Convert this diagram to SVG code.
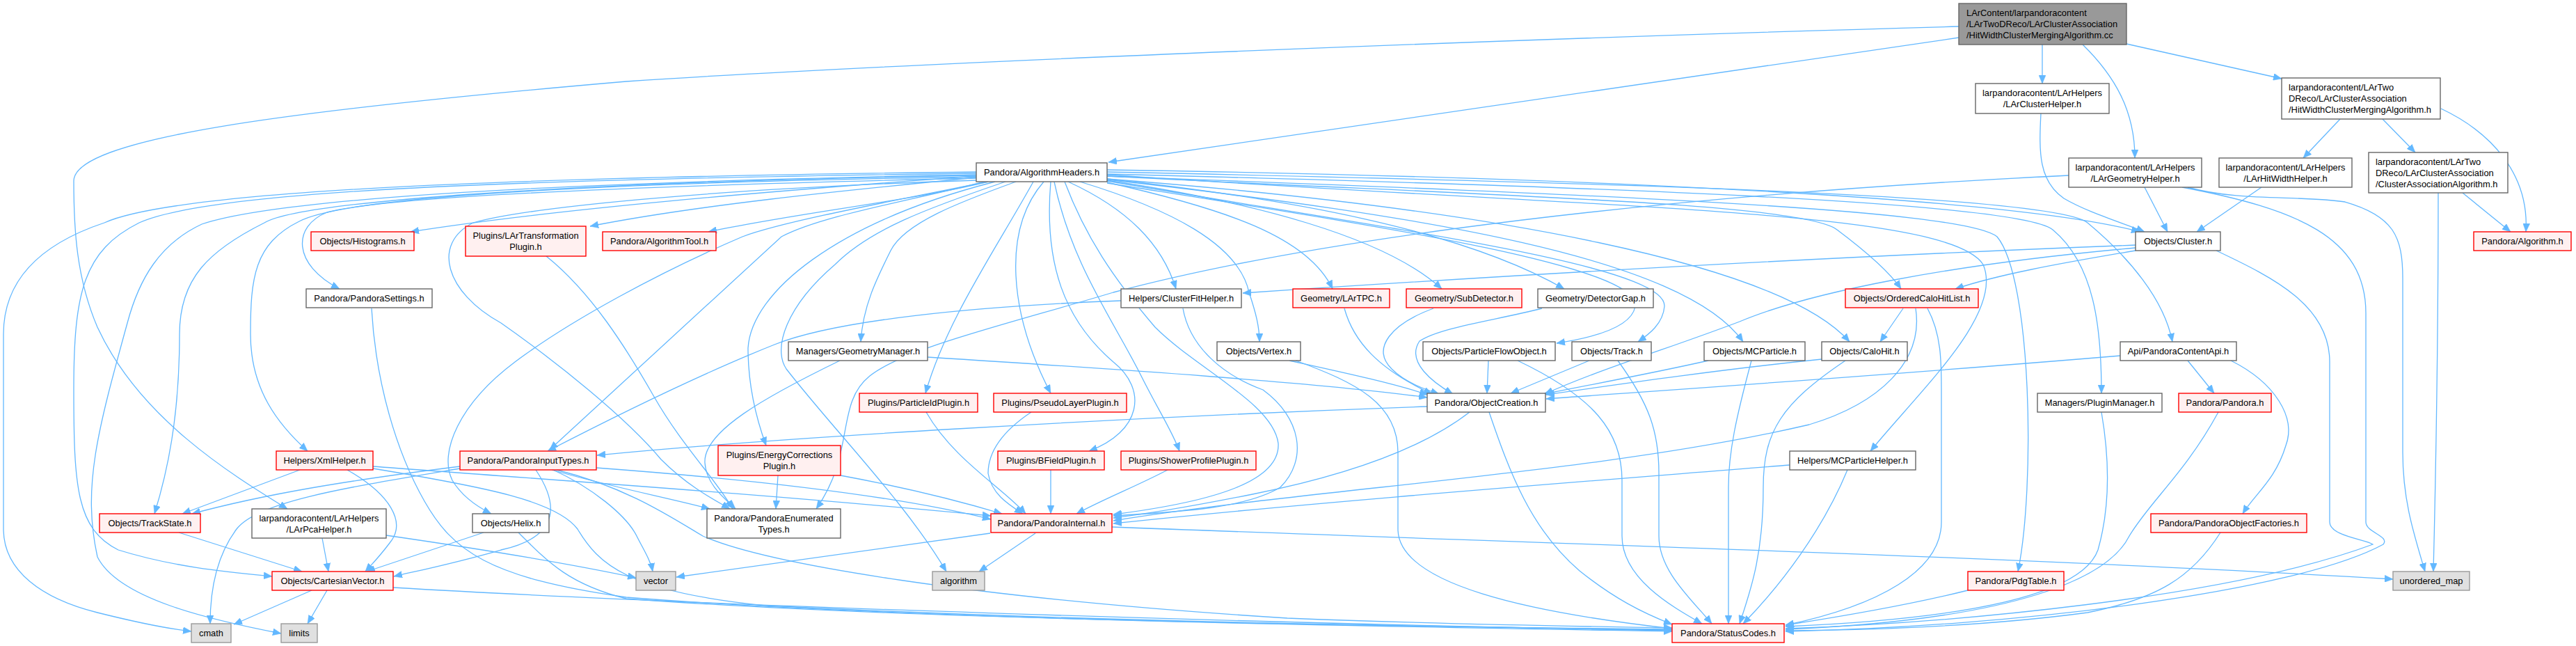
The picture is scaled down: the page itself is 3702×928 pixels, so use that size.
<svg xmlns="http://www.w3.org/2000/svg" width="3702" height="928" viewBox="0 0 3702 928">
<style>
text{font-family:"Liberation Sans",Arial,Helvetica,sans-serif;font-size:12.9px;fill:#000}
.c{text-anchor:middle}
rect{stroke-width:1.4}
.w{fill:#fff;stroke:#666}
.r{fill:#fff0f0;stroke:#f00}
.g{fill:#e0e0e0;stroke:#999}
.rt{fill:#999;stroke:#666}
#edges path{fill:none;stroke:#63b8ff;stroke-width:1.3;marker-end:url(#arr)}
</style>
<defs>
<marker id="arr" viewBox="0 0 12 10" refX="12" refY="5" markerWidth="12" markerHeight="10" markerUnits="userSpaceOnUse" orient="auto"><path d="M0,0 L12,5 L0,10 z" fill="#63b8ff" stroke="#63b8ff" stroke-width="0.5"/></marker>
</defs>
<rect width="3702" height="928" fill="#fff"/>
<g id="edges">
<path d="M2815,54 L1593,233"/>
<path d="M2815,38 C2200,55 1300,90 900,117 C400,160 106,200 106,260 C106,330 110,400 140,470 C200,600 330,680 413,731"/>
<path d="M2935,64 L2935,120"/>
<path d="M2993,64 C3040,110 3068,160 3068,227"/>
<path d="M3056,63 L3279,113"/>
<path d="M3363,171 L3310,227"/>
<path d="M3424,171 L3471,219"/>
<path d="M3508,156 C3580,190 3635,250 3630,333"/>
<path d="M3539,277 L3608,333"/>
<path d="M3504,277 C3504,500 3500,700 3497,821"/>
<path d="M2933,163 C2930,220 2930,260 2966,285 C3000,305 3050,320 3082,333"/>
<path d="M3082,269 L3115,333"/>
<path d="M3250,269 L3157,333"/>
<path d="M3136,269 C3300,300 3400,340 3400,450 L3400,750 C3400,765 3435,770 3425,782 C3300,850 2900,900 2566,907"/>
<path d="M3144,269 C3220,290 3300,280 3370,290 C3440,310 3453,340 3453,400 L3453,650 C3453,720 3470,770 3485,821"/>
<path d="M2973,252 C2400,280 1900,340 1600,420 C1450,465 1300,500 1250,540 C1200,580 1230,650 1173,731"/>
<path d="M3069,352 C2600,370 2100,400 1786,421"/>
<path d="M3069,356 C2800,380 2600,420 2500,462 C2400,500 2300,530 2220,566"/>
<path d="M3069,360 C2950,380 2870,395 2810,415"/>
<path d="M3185,360 C3270,400 3348,440 3348,520 L3348,750 C3348,770 3400,775 3410,782 C3200,860 2800,895 2566,903"/>
<path d="M2735,443 L2702,491"/>
<path d="M2753,443 C2765,520 2700,580 2600,610 C2300,680 1900,700 1600,748"/>
<path d="M2770,443 C2790,480 2790,520 2790,560 L2790,750 C2790,820 2700,870 2566,898"/>
<path d="M2618,516 C2480,530 2340,550 2222,567"/>
<path d="M2652,518 C2560,580 2534,620 2534,700 C2534,800 2515,850 2500,896"/>
<path d="M2455,518 C2380,535 2290,552 2218,566"/>
<path d="M2517,518 C2495,600 2484,650 2484,700 L2484,896"/>
<path d="M2284,518 L2171,565"/>
<path d="M2325,518 C2370,580 2384,620 2384,680 L2384,770 C2384,820 2430,860 2460,896"/>
<path d="M2139,518 L2137,565"/>
<path d="M2181,518 C2290,570 2331,620 2331,690 L2331,770 C2331,830 2400,870 2446,896"/>
<path d="M1853,518 C1930,535 2000,550 2052,567"/>
<path d="M1862,518 C1950,550 2009,580 2009,650 L2009,760 C2009,840 2200,880 2403,903"/>
<path d="M3047,511 C2700,540 2400,560 2222,573"/>
<path d="M3144,518 L3182,565"/>
<path d="M3206,518 C3270,550 3300,600 3285,640 C3270,690 3240,710 3223,738"/>
<path d="M3020,592 C3030,650 3035,720 3015,790 C2990,860 2800,890 2566,900"/>
<path d="M3188,592 C3140,680 3090,720 3060,770 C3030,830 2900,890 2566,904"/>
<path d="M3191,765 C3150,830 3100,860 3000,880 C2850,900 2700,905 2566,906"/>
<path d="M2828,848 C2740,870 2650,885 2566,898"/>
<path d="M2572,668 C2300,690 1900,720 1600,752"/>
<path d="M2655,675 C2620,760 2560,840 2505,896"/>
<path d="M2051,584 C1600,600 1100,630 858,654"/>
<path d="M2112,592 C2050,640 1950,680 1800,710 C1700,730 1650,738 1600,744"/>
<path d="M2140,592 C2170,680 2200,760 2270,820 C2320,860 2360,880 2403,897"/>
<path d="M1932,443 C1945,490 1980,530 2058,566"/>
<path d="M2060,443 C2000,465 1970,500 2000,530 C2020,550 2050,560 2068,566"/>
<path d="M2216,443 C2150,460 2070,470 2040,490 C2020,520 2060,550 2088,566"/>
<path d="M1333,513 C1600,530 1900,550 2051,571"/>
<path d="M1207,518 C1100,570 1010,620 1013,665 C1015,695 1040,715 1057,731"/>
<path d="M1611,432 C1400,440 1200,460 1113,495 C1000,540 880,600 787,648"/>
<path d="M1700,443 C1710,500 1760,540 1815,560 C1870,600 1880,660 1840,700 C1790,730 1700,735 1600,741"/>
<path d="M1331,592 C1370,660 1440,700 1474,738"/>
<path d="M1482,592 C1440,620 1420,650 1420,680 C1425,710 1450,725 1470,738"/>
<path d="M1510,675 L1510,738"/>
<path d="M1678,675 C1630,700 1590,715 1547,738"/>
<path d="M1118,683 L1115,731"/>
<path d="M1208,683 C1300,700 1380,720 1440,738"/>
<path d="M793,675 C880,700 960,715 1020,731"/>
<path d="M857,672 C1100,690 1300,715 1424,746"/>
<path d="M795,675 C850,700 900,740 915,770 C925,790 935,805 938,821"/>
<path d="M770,675 C800,720 810,770 720,790 C650,810 600,820 566,828"/>
<path d="M661,670 C500,690 380,710 276,738"/>
<path d="M661,673 C500,700 370,720 340,760 C310,800 302,850 302,896"/>
<path d="M800,675 C900,700 960,740 1010,770 C1100,810 1400,860 1850,888 C2100,898 2300,900 2403,902"/>
<path d="M431,675 L262,738"/>
<path d="M499,675 C560,710 585,750 560,780 C545,800 535,810 525,821"/>
<path d="M536,670 C800,690 1100,710 1424,741"/>
<path d="M536,673 C700,700 800,720 830,760 C860,810 900,850 1100,870 C1600,895 2100,900 2403,905"/>
<path d="M257,765 L434,821"/>
<path d="M463,773 L472,821"/>
<path d="M555,769 C700,790 820,810 914,830"/>
<path d="M695,765 L527,821"/>
<path d="M745,765 C790,810 820,840 900,860 C1300,890 2000,900 2403,904"/>
<path d="M448,848 L336,897"/>
<path d="M470,848 L442,896"/>
<path d="M565,844 C1000,870 1800,895 2403,906"/>
<path d="M534,443 C540,550 570,650 610,720 C650,790 700,830 900,858 C1300,890 2000,900 2403,907"/>
<path d="M1423,766 C1250,790 1100,810 972,829"/>
<path d="M1488,766 L1407,821"/>
<path d="M1598,757 C2200,780 2900,800 3439,832"/>
<path d="M785,368 C850,420 900,500 940,570 C980,640 1030,690 1053,731"/>
<path d="M1403,253 C1100,275 800,300 590,333"/>
<path d="M1403,255 C1200,275 1000,295 848,325"/>
<path d="M1420,261 C1300,290 1150,305 1018,333"/>
<path d="M1403,256 C1000,265 560,280 470,305 C420,325 420,380 488,415"/>
<path d="M1535,261 C1620,300 1670,350 1690,415"/>
<path d="M1591,262 C1760,300 1880,340 1915,415"/>
<path d="M1591,259 C1800,290 1990,340 2072,415"/>
<path d="M1591,257 C1850,285 2100,330 2248,415"/>
<path d="M1591,253 C2100,280 2590,290 2640,330 C2680,360 2715,390 2732,415"/>
<path d="M1591,244 C2300,255 2900,285 3075,333"/>
<path d="M1460,261 C1380,290 1300,320 1280,360 C1260,400 1240,440 1237,491"/>
<path d="M1552,261 C1680,300 1780,350 1795,420 C1805,450 1810,470 1810,491"/>
<path d="M1591,263 C1950,320 2360,380 2350,440 C2345,470 2290,485 2237,493"/>
<path d="M1591,260 C2000,330 2395,380 2392,440 C2390,465 2370,480 2354,491"/>
<path d="M1591,258 C2050,310 2420,370 2505,491"/>
<path d="M1591,257 C2150,300 2560,380 2658,491"/>
<path d="M1591,247 C2300,262 2950,280 3000,320 C3060,370 3110,430 3122,491"/>
<path d="M1591,250 C2300,268 2900,290 2950,330 C3010,380 3020,470 3020,565"/>
<path d="M1591,253 C2300,280 2820,300 2870,340 C2920,400 2925,700 2900,821"/>
<path d="M1591,251 C2300,300 2800,300 2850,380 C2880,450 2760,560 2688,648"/>
<path d="M1485,261 C1430,360 1360,460 1330,565"/>
<path d="M1500,261 C1440,330 1450,450 1510,565"/>
<path d="M1510,261 C1500,380 1530,460 1600,520 C1650,560 1640,620 1565,648"/>
<path d="M1515,261 C1540,380 1600,460 1640,540 C1665,590 1685,620 1695,648"/>
<path d="M1430,261 C1200,320 1080,420 1075,500 C1075,560 1090,610 1101,640"/>
<path d="M1415,261 C1300,290 1180,310 1123,340 L790,646"/>
<path d="M1420,261 C1250,295 1120,320 1067,340 C950,390 820,460 740,520 C660,580 630,650 650,690 C665,715 690,730 706,738"/>
<path d="M1403,254 C900,262 500,280 430,318 C365,350 360,400 360,480 C360,560 400,610 442,648"/>
<path d="M1403,252 C800,262 430,290 380,320 C300,360 258,400 258,480 C258,600 240,680 222,738"/>
<path d="M1403,249 C700,258 300,275 200,320 C120,360 106,420 106,560 C106,700 110,760 170,790 C250,815 330,822 391,828"/>
<path d="M1403,247 C700,255 250,275 150,320 C60,350 5,400 5,480 L5,760 C5,820 60,860 140,880 C200,895 240,903 275,907"/>
<path d="M1403,251 C800,262 400,285 290,322 C230,350 200,400 183,464 C140,620 118,700 140,800 C170,860 300,890 404,910"/>
<path d="M1403,259 C1000,272 750,300 680,320 C620,350 640,420 720,464 C800,520 900,600 950,660 C990,700 1030,720 1049,731"/>
<path d="M1530,261 C1560,340 1600,400 1660,470 C1720,530 1830,580 1837,637 C1840,690 1750,720 1600,739"/>
<path d="M1445,261 C1330,300 1250,330 1200,380 C1130,440 1110,500 1130,530 C1200,620 1300,720 1360,821"/>
</g>
<g id="n_root"><rect class="rt" x="2815" y="5" width="241" height="59"/><text x="2826" y="23">LArContent/larpandoracontent</text><text x="2826" y="39">/LArTwoDReco/LArClusterAssociation</text><text x="2826" y="55">/HitWidthClusterMergingAlgorithm.cc</text></g>
<g id="n_lch"><rect class="w" x="2839" y="120" width="192" height="43"/><text class="c" x="2935" y="138">larpandoracontent/LArHelpers</text><text class="c" x="2935" y="154">/LArClusterHelper.h</text></g>
<g id="n_hwh"><rect class="w" x="3279" y="112" width="228" height="59"/><text x="3289" y="130">larpandoracontent/LArTwo</text><text x="3289" y="146">DReco/LArClusterAssociation</text><text x="3289" y="162">/HitWidthClusterMergingAlgorithm.h</text></g>
<g id="n_ah"><rect class="w" x="1403" y="234" width="188" height="27"/><text class="c" x="1497" y="252">Pandora/AlgorithmHeaders.h</text></g>
<g id="n_lgh"><rect class="w" x="2973" y="227" width="191" height="42"/><text class="c" x="3068.5" y="244.5">larpandoracontent/LArHelpers</text><text class="c" x="3068.5" y="260.5">/LArGeometryHelper.h</text></g>
<g id="n_lhwh"><rect class="w" x="3189" y="227" width="191" height="42"/><text class="c" x="3284.5" y="244.5">larpandoracontent/LArHelpers</text><text class="c" x="3284.5" y="260.5">/LArHitWidthHelper.h</text></g>
<g id="n_caa"><rect class="w" x="3404" y="219" width="200" height="58"/><text x="3414" y="236.5">larpandoracontent/LArTwo</text><text x="3414" y="252.5">DReco/LArClusterAssociation</text><text x="3414" y="268.5">/ClusterAssociationAlgorithm.h</text></g>
<g id="n_hist"><rect class="r" x="447" y="333" width="148" height="27"/><text class="c" x="521" y="351">Objects/Histograms.h</text></g>
<g id="n_ltp"><rect class="r" x="669" y="325" width="173" height="43"/><text class="c" x="755.5" y="343">Plugins/LArTransformation</text><text class="c" x="755.5" y="359">Plugin.h</text></g>
<g id="n_at"><rect class="r" x="866" y="333" width="163" height="27"/><text class="c" x="947.5" y="351">Pandora/AlgorithmTool.h</text></g>
<g id="n_cl"><rect class="w" x="3069" y="333" width="122" height="27"/><text class="c" x="3130" y="351">Objects/Cluster.h</text></g>
<g id="n_alg"><rect class="r" x="3555" y="333" width="140" height="27"/><text class="c" x="3625" y="351">Pandora/Algorithm.h</text></g>
<g id="n_ps"><rect class="w" x="440" y="415" width="181" height="27"/><text class="c" x="530.5" y="433">Pandora/PandoraSettings.h</text></g>
<g id="n_cfh"><rect class="w" x="1611" y="415" width="173" height="27"/><text class="c" x="1697.5" y="433">Helpers/ClusterFitHelper.h</text></g>
<g id="n_tpc"><rect class="r" x="1858" y="415" width="139" height="27"/><text class="c" x="1927.5" y="433">Geometry/LArTPC.h</text></g>
<g id="n_sd"><rect class="r" x="2021" y="415" width="166" height="27"/><text class="c" x="2104" y="433">Geometry/SubDetector.h</text></g>
<g id="n_dg"><rect class="w" x="2210" y="415" width="166" height="27"/><text class="c" x="2293" y="433">Geometry/DetectorGap.h</text></g>
<g id="n_ochl"><rect class="r" x="2652" y="415" width="191" height="27"/><text class="c" x="2747.5" y="433">Objects/OrderedCaloHitList.h</text></g>
<g id="n_gm"><rect class="w" x="1133" y="491" width="200" height="27"/><text class="c" x="1233" y="509">Managers/GeometryManager.h</text></g>
<g id="n_vx"><rect class="w" x="1749" y="491" width="120" height="27"/><text class="c" x="1809" y="509">Objects/Vertex.h</text></g>
<g id="n_pfo"><rect class="w" x="2045" y="491" width="190" height="27"/><text class="c" x="2140" y="509">Objects/ParticleFlowObject.h</text></g>
<g id="n_trk"><rect class="w" x="2259" y="491" width="114" height="27"/><text class="c" x="2316" y="509">Objects/Track.h</text></g>
<g id="n_mcp"><rect class="w" x="2449" y="491" width="145" height="27"/><text class="c" x="2521.5" y="509">Objects/MCParticle.h</text></g>
<g id="n_ch"><rect class="w" x="2618" y="491" width="123" height="27"/><text class="c" x="2679.5" y="509">Objects/CaloHit.h</text></g>
<g id="n_api"><rect class="w" x="3047" y="491" width="167" height="27"/><text class="c" x="3130.5" y="509">Api/PandoraContentApi.h</text></g>
<g id="n_pid"><rect class="r" x="1235" y="565" width="170" height="27"/><text class="c" x="1320" y="583">Plugins/ParticleIdPlugin.h</text></g>
<g id="n_pl"><rect class="r" x="1428" y="565" width="191" height="27"/><text class="c" x="1523.5" y="583">Plugins/PseudoLayerPlugin.h</text></g>
<g id="n_oc"><rect class="w" x="2051" y="565" width="170" height="27"/><text class="c" x="2136" y="583">Pandora/ObjectCreation.h</text></g>
<g id="n_pm"><rect class="w" x="2928" y="565" width="179" height="27"/><text class="c" x="3017.5" y="583">Managers/PluginManager.h</text></g>
<g id="n_pan"><rect class="r" x="3131" y="565" width="133" height="27"/><text class="c" x="3197.5" y="583">Pandora/Pandora.h</text></g>
<g id="n_xml"><rect class="r" x="397" y="648" width="139" height="27"/><text class="c" x="466.5" y="666">Helpers/XmlHelper.h</text></g>
<g id="n_pit"><rect class="r" x="661" y="648" width="196" height="27"/><text class="c" x="759" y="666">Pandora/PandoraInputTypes.h</text></g>
<g id="n_ec"><rect class="r" x="1032" y="640" width="176" height="43"/><text class="c" x="1120" y="658">Plugins/EnergyCorrections</text><text class="c" x="1120" y="674">Plugin.h</text></g>
<g id="n_bf"><rect class="r" x="1434" y="648" width="153" height="27"/><text class="c" x="1510.5" y="666">Plugins/BFieldPlugin.h</text></g>
<g id="n_sp"><rect class="r" x="1611" y="648" width="194" height="27"/><text class="c" x="1708" y="666">Plugins/ShowerProfilePlugin.h</text></g>
<g id="n_mch"><rect class="w" x="2572" y="648" width="181" height="27"/><text class="c" x="2662.5" y="666">Helpers/MCParticleHelper.h</text></g>
<g id="n_ts"><rect class="r" x="143" y="738" width="145" height="27"/><text class="c" x="215.5" y="756">Objects/TrackState.h</text></g>
<g id="n_pca"><rect class="w" x="362" y="731" width="193" height="42"/><text class="c" x="458.5" y="748.5">larpandoracontent/LArHelpers</text><text class="c" x="458.5" y="764.5">/LArPcaHelper.h</text></g>
<g id="n_hx"><rect class="w" x="679" y="738" width="110" height="27"/><text class="c" x="734" y="756">Objects/Helix.h</text></g>
<g id="n_pet"><rect class="w" x="1016" y="731" width="192" height="42"/><text class="c" x="1112" y="748.5">Pandora/PandoraEnumerated</text><text class="c" x="1112" y="764.5">Types.h</text></g>
<g id="n_pi"><rect class="r" x="1424" y="738" width="174" height="27"/><text class="c" x="1511" y="756">Pandora/PandoraInternal.h</text></g>
<g id="n_pof"><rect class="r" x="3091" y="738" width="224" height="27"/><text class="c" x="3203" y="756">Pandora/PandoraObjectFactories.h</text></g>
<g id="n_cv"><rect class="r" x="391" y="821" width="174" height="27"/><text class="c" x="478" y="839">Objects/CartesianVector.h</text></g>
<g id="n_vec"><rect class="g" x="914" y="821" width="57" height="27"/><text class="c" x="942.5" y="839">vector</text></g>
<g id="n_algo"><rect class="g" x="1340" y="821" width="75" height="27"/><text class="c" x="1377.5" y="839">algorithm</text></g>
<g id="n_pdg"><rect class="r" x="2828" y="821" width="138" height="27"/><text class="c" x="2897" y="839">Pandora/PdgTable.h</text></g>
<g id="n_um"><rect class="g" x="3439" y="821" width="110" height="27"/><text class="c" x="3494" y="839">unordered_map</text></g>
<g id="n_cmath"><rect class="g" x="275" y="896" width="57" height="27"/><text class="c" x="303.5" y="914">cmath</text></g>
<g id="n_limits"><rect class="g" x="404" y="896" width="52" height="27"/><text class="c" x="430" y="914">limits</text></g>
<g id="n_sc"><rect class="r" x="2403" y="896" width="161" height="27"/><text class="c" x="2483.5" y="914">Pandora/StatusCodes.h</text></g>
</svg>
